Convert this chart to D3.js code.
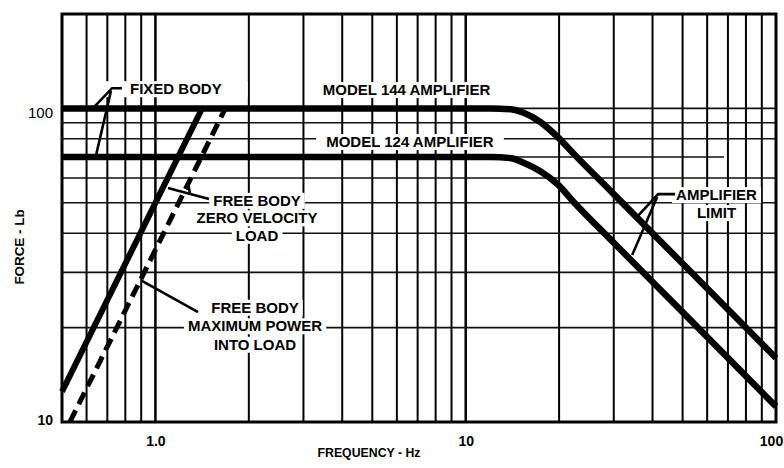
<!DOCTYPE html>
<html>
<head>
<meta charset="utf-8">
<script src="https://cdn.jsdelivr.net/npm/d3@7"></script>
<style>
  body { margin: 0; background: #fff; }
  text { font-family: "Liberation Sans", Arial, Helvetica, sans-serif; font-weight: bold; fill: #000; }
</style>
</head>
<body>
<svg id="chart" width="784" height="468"></svg>
<script>
// ---- data (frequency in Hz, force in Lb) ----
const xTickValues = [1, 10, 100];
const xTickLabels = ["1.0", "10", "100"];
const yTickValues = [10, 100];
const yTickLabels = ["10", "100"];

const gridFreqs = [0.6, 0.7, 0.8, 0.9, 1, 2, 3, 4, 5, 6, 7, 8, 9, 10, 20, 30, 40, 50, 60, 70, 80, 90];
const gridForces = [20, 30, 40, 50, 60, 70, 80, 90, 100];

const model144 = [[0.5, 100], [12, 100], [14, 99.3], [15.3, 97], [17.4, 90.5], [19.8, 81], [22.2, 72], [30, 53.3], [50, 32], [100, 16]];
const model124 = [[0.5, 70], [12, 70], [14, 69.4], [15.3, 67.2], [17.4, 63], [19.8, 57.2], [22.2, 50.5], [30, 37.3], [50, 22.4], [100, 11.2]];
const zeroVelocityLoad = [[0.5, 12.5], [1.0, 50], [1.414, 100]];
const maxPowerLoad = [[0.53, 10], [1.0, 35.4], [1.68, 100]];

// ---- layout ----
const svg = d3.select("#chart");
const x = d3.scaleLog().domain([0.5, 100]).range([62, 776]);
const y = d3.scaleLog().domain([10, 200]).range([422, 14]);
const P = (f, F) => [x(f), y(F)];

// ---- grid ----
const grid = svg.append("g");
grid.selectAll("line.v").data(gridFreqs).join("line")
  .attr("x1", d => x(d)).attr("x2", d => x(d))
  .attr("y1", y(200)).attr("y2", y(10))
  .attr("stroke", "#000")
  .attr("stroke-width", d => (d === 1 || d === 10) ? 2.5 : 2);
grid.selectAll("line.h").data(gridForces).join("line")
  .attr("x1", x(0.5)).attr("x2", d => d === 70 ? x(68) : x(100))
  .attr("y1", d => y(d)).attr("y2", d => y(d))
  .attr("stroke", "#111")
  .attr("stroke-width", 1.6);

// ---- annotation text with white backing ----
const boxes = svg.append("g");
const labels = svg.append("g");
function label(lines, f, F, opts = {}) {
  const anchor = opts.anchor || "middle";
  const lh = opts.lineHeight || 18;
  const padX = opts.padX === undefined ? 4 : opts.padX;
  const [px, py] = P(f, F);
  lines.forEach((s, i) => {
    const t = labels.append("text")
      .attr("x", px).attr("y", py + i * lh)
      .attr("text-anchor", anchor)
      .style("font-size", "15px")
      .text(s);
    const b = t.node().getBBox();
    boxes.append("rect")
      .attr("x", b.x - padX).attr("y", b.y + 1)
      .attr("width", b.width + 2 * padX).attr("height", b.height - 1)
      .attr("fill", "#fff");
  });
}
label(["FIXED BODY"], 0.828, 111, { anchor: "start", padX: 26 });
label(["MODEL 144 AMPLIFIER"], 6.45, 110.3, { padX: 4 });
label(["MODEL 124 AMPLIFIER"], 6.61, 75.3, { padX: 10 });
label(["FREE BODY", "ZERO VELOCITY", "LOAD"], 2.125, 48.9, { lineHeight: 17.5 });
label(["FREE BODY", "MAXIMUM POWER", "INTO LOAD"], 2.094, 22.3, { lineHeight: 18.5 });
label(["AMPLIFIER", "LIMIT"], 64.3, 51.0, { lineHeight: 18 });

// ---- frame ----
svg.append("rect")
  .attr("x", x(0.5)).attr("y", y(200))
  .attr("width", x(100) - x(0.5)).attr("height", y(10) - y(200))
  .attr("fill", "none").attr("stroke", "#000").attr("stroke-width", 3);

// ---- curves ----
const line = d3.line().x(d => x(d[0])).y(d => y(d[1])).curve(d3.curveMonotoneX);
const curves = svg.append("g").attr("fill", "none").attr("stroke", "#000");
curves.append("path").datum(model144).attr("d", line).attr("stroke-width", 6.5);
curves.append("path").datum(model124).attr("d", line).attr("stroke-width", 6.5);
curves.append("path").datum(zeroVelocityLoad).attr("d", line).attr("stroke-width", 6);
curves.append("path").datum(maxPowerLoad).attr("d", line).attr("stroke-width", 5)
  .attr("stroke-dasharray", "13 7");

// ---- leader lines ----
const leaders = [
  [[0.78, 116], [0.725, 116], [0.634, 101]],
  [[0.719, 113.6], [0.644, 71]],
  [[1.098, 55.7], [1.488, 51.4]],
  [[1.274, 57.8], [1.293, 53.3]],
  [[0.905, 28.2], [1.372, 22.4]],
  [[47.3, 53.3], [41.7, 53.3], [35.9, 45.4]],
  [[41.4, 52.2], [34.4, 34.1]]
];
const straight = d3.line().x(d => x(d[0])).y(d => y(d[1]));
svg.append("g").selectAll("path").data(leaders).join("path")
  .attr("d", straight).attr("fill", "none").attr("stroke", "#000").attr("stroke-width", 2.6);

// ---- axes ----
const xAxis = svg.append("g").attr("transform", `translate(0,${y(10)})`)
  .call(d3.axisBottom(x).tickValues(xTickValues).tickSize(0).tickPadding(14)
    .tickFormat((d, i) => xTickLabels[i]));
xAxis.select(".domain").remove();
xAxis.selectAll("text").style("font-size", "14px").attr("fill", "#000")
  .attr("dx", d => d === 100 ? -5 : 0);

const yAxis = svg.append("g").attr("transform", `translate(${x(0.5) - 9},0)`)
  .call(d3.axisLeft(y).tickValues(yTickValues).tickSize(0).tickPadding(0)
    .tickFormat((d, i) => yTickLabels[i]));
yAxis.select(".domain").remove();
yAxis.selectAll("text").attr("fill", "#000")
  .style("font-size", d => d === 100 ? "15px" : "14px")
  .style("font-weight", d => d === 100 ? "normal" : "bold")
  .attr("dy", d => d === 100 ? "0.62em" : "0.2em");

svg.append("text").attr("x", 369).attr("y", 457).attr("text-anchor", "middle")
  .style("font-size", "12.3px").text("FREQUENCY - Hz");
svg.append("text").attr("transform", "translate(24,247) rotate(-90)").attr("text-anchor", "middle")
  .style("font-size", "13.4px").text("FORCE - Lb");
</script>
</body>
</html>
